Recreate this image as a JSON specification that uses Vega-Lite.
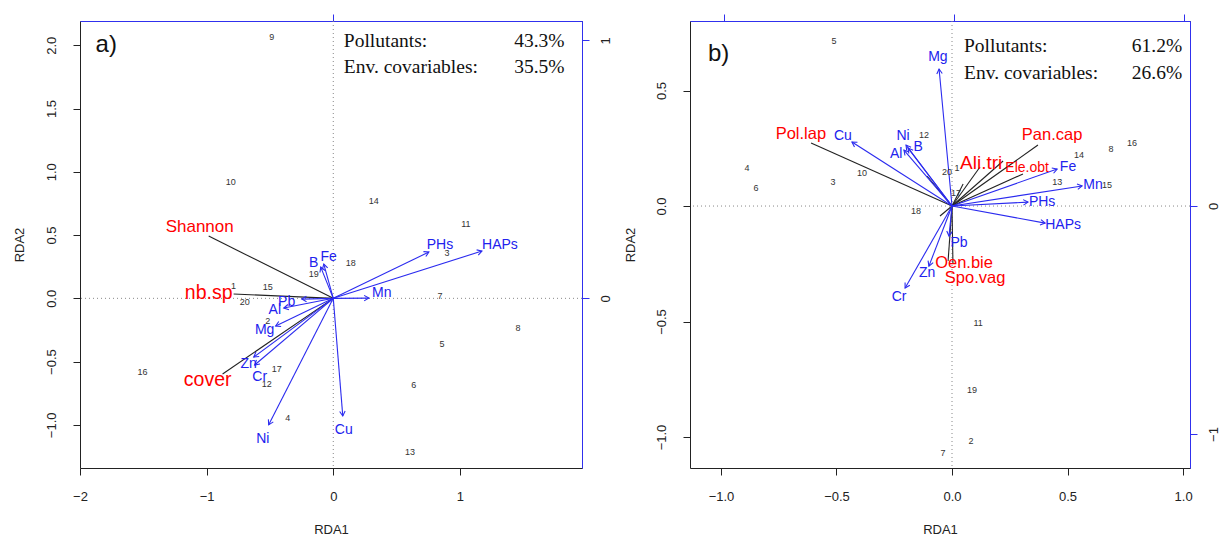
{
  "$schema": "https://vega.github.io/schema/vega-lite/v6.json",
  "padding": {"left": 12, "top": 13, "right": 0, "bottom": 0},
  "background": "white",
  "bounds": "flush",
  "spacing": 108,
  "config": {
    "view": {"stroke": "#222", "strokeWidth": 1},
    "axis": {"grid": false, "labelFont": "Liberation Sans", "titleFont": "Liberation Sans", "labelFontSize": 13, "titleFontSize": 13, "titleFontWeight": "normal", "labelColor": "#222", "titleColor": "#222", "tickColor": "#222", "labelOverlap": false, "labelFlush": false},
    "text": {"font": "Liberation Sans"}
  },
  "datasets": {
    "sitesA": [
      {"n": "1", "x": -0.787, "y": 0.097}, {"n": "2", "x": -0.518, "y": -0.179}, {"n": "3", "x": 0.897, "y": 0.358},
      {"n": "4", "x": -0.36, "y": -0.946}, {"n": "5", "x": 0.858, "y": -0.361}, {"n": "6", "x": 0.636, "y": -0.685},
      {"n": "7", "x": 0.842, "y": 0.018}, {"n": "8", "x": 1.458, "y": -0.235}, {"n": "9", "x": -0.486, "y": 2.066},
      {"n": "10", "x": -0.81, "y": 0.919}, {"n": "11", "x": 1.047, "y": 0.587}, {"n": "12", "x": -0.526, "y": -0.677},
      {"n": "13", "x": 0.605, "y": -1.215}, {"n": "14", "x": 0.32, "y": 0.769}, {"n": "15", "x": -0.518, "y": 0.089},
      {"n": "16", "x": -1.506, "y": -0.583}, {"n": "17", "x": -0.447, "y": -0.559}, {"n": "18", "x": 0.138, "y": 0.279},
      {"n": "19", "x": -0.154, "y": 0.192}, {"n": "20", "x": -0.7, "y": -0.029}
    ],
    "envA": [
      {"n": "Fe", "x": -0.075, "y": 0.271, "lx": -0.036, "ly": 0.326},
      {"n": "B", "x": -0.099, "y": 0.247, "lx": -0.154, "ly": 0.279},
      {"n": "Mn", "x": 0.281, "y": 0.002, "lx": 0.383, "ly": 0.042},
      {"n": "Pb", "x": -0.249, "y": -0.006, "lx": -0.368, "ly": -0.029},
      {"n": "Al", "x": -0.391, "y": -0.077, "lx": -0.462, "ly": -0.092},
      {"n": "Mg", "x": -0.455, "y": -0.219, "lx": -0.542, "ly": -0.251},
      {"n": "Zn", "x": -0.628, "y": -0.464, "lx": -0.668, "ly": -0.519},
      {"n": "Cr", "x": -0.621, "y": -0.527, "lx": -0.581, "ly": -0.622},
      {"n": "Ni", "x": -0.51, "y": -1.0, "lx": -0.557, "ly": -1.112},
      {"n": "Cu", "x": 0.075, "y": -0.93, "lx": 0.083, "ly": -1.041},
      {"n": "PHs", "x": 0.755, "y": 0.366, "lx": 0.842, "ly": 0.421},
      {"n": "HAPs", "x": 1.174, "y": 0.374, "lx": 1.316, "ly": 0.421}
    ],
    "spA": [
      {"n": "Shannon", "x": -0.984, "y": 0.492, "lx": -1.055, "ly": 0.564},
      {"n": "nb.sp", "x": -0.787, "y": 0.034, "lx": -0.984, "ly": 0.042},
      {"n": "cover", "x": -0.874, "y": -0.598, "lx": -0.992, "ly": -0.646}
    ],
    "sitesB": [
      {"n": "1", "x": 0.022, "y": 0.165}, {"n": "2", "x": 0.082, "y": -1.017}, {"n": "3", "x": -0.515, "y": 0.104},
      {"n": "4", "x": -0.887, "y": 0.165}, {"n": "5", "x": -0.511, "y": 0.714}, {"n": "6", "x": -0.848, "y": 0.078},
      {"n": "7", "x": -0.039, "y": -1.069}, {"n": "8", "x": 0.688, "y": 0.247}, {"n": "10", "x": -0.39, "y": 0.143},
      {"n": "11", "x": 0.113, "y": -0.506}, {"n": "12", "x": -0.121, "y": 0.307}, {"n": "13", "x": 0.455, "y": 0.104},
      {"n": "14", "x": 0.55, "y": 0.221}, {"n": "15", "x": 0.671, "y": 0.091}, {"n": "16", "x": 0.779, "y": 0.273},
      {"n": "17", "x": 0.017, "y": 0.056}, {"n": "18", "x": -0.156, "y": -0.022}, {"n": "19", "x": 0.087, "y": -0.797},
      {"n": "20", "x": -0.022, "y": 0.147}
    ],
    "envB": [
      {"n": "Mg", "x": -0.056, "y": 0.593, "lx": -0.061, "ly": 0.645},
      {"n": "Cu", "x": -0.433, "y": 0.277, "lx": -0.472, "ly": 0.303},
      {"n": "Ni", "x": -0.199, "y": 0.264, "lx": -0.212, "ly": 0.303},
      {"n": "B", "x": -0.19, "y": 0.251, "lx": -0.147, "ly": 0.255},
      {"n": "Al", "x": -0.208, "y": 0.242, "lx": -0.242, "ly": 0.225},
      {"n": "Fe", "x": 0.455, "y": 0.16, "lx": 0.502, "ly": 0.169},
      {"n": "Mn", "x": 0.563, "y": 0.087, "lx": 0.61, "ly": 0.091},
      {"n": "PHs", "x": 0.329, "y": 0.017, "lx": 0.39, "ly": 0.017},
      {"n": "HAPs", "x": 0.403, "y": -0.074, "lx": 0.481, "ly": -0.082},
      {"n": "Pb", "x": -0.013, "y": -0.13, "lx": 0.03, "ly": -0.16},
      {"n": "Zn", "x": -0.1, "y": -0.26, "lx": -0.108, "ly": -0.29},
      {"n": "Cr", "x": -0.203, "y": -0.355, "lx": -0.229, "ly": -0.394}
    ],
    "spB": [
      {"n": "Pol.lap", "x": -0.61, "y": 0.273, "lx": -0.654, "ly": 0.312},
      {"n": "Pan.cap", "x": 0.372, "y": 0.264, "lx": 0.433, "ly": 0.307},
      {"n": "Ali.tri", "x": 0.121, "y": 0.169, "lx": 0.126, "ly": 0.186},
      {"n": "Ele.obt", "x": 0.307, "y": 0.139, "lx": 0.325, "ly": 0.165},
      {"n": "Oen.bie", "x": -0.017, "y": -0.238, "lx": 0.052, "ly": -0.247},
      {"n": "Spo.vag", "x": 0.004, "y": -0.247, "lx": 0.1, "ly": -0.312},
      {"n": "", "x": -0.108, "y": 0.13, "lx": -0.108, "ly": 0.13},
      {"n": "", "x": -0.052, "y": -0.043, "lx": -0.052, "ly": -0.043},
      {"n": "", "x": 0.048, "y": 0.095, "lx": 0.048, "ly": 0.095},
      {"n": "", "x": 0.221, "y": 0.195, "lx": 0.221, "ly": 0.195}
    ]
  },
  "hconcat": [
    {
      "width": 502,
      "height": 447,
      "resolve": {"scale": {"x": "independent", "y": "independent"}},
      "layer": [
        {
          "layer": [
            {
              "data": {"values": [{"v": 0}]},
              "mark": {"type": "rule", "color": "#888", "strokeDash": [1, 3], "strokeWidth": 1},
              "encoding": {
                "x": {"field": "v", "type": "quantitative", "scale": {"domain": [-2.0, 1.964], "nice": false, "zero": false},
                  "axis": {"orient": "bottom", "values": [-2, -1, 0, 1], "format": "d", "domain": false, "tickSize": 7, "labelPadding": 21, "labelBaseline": "middle", "title": "RDA1", "titleY": 61, "titleBaseline": "middle"}}
              }
            },
            {
              "data": {"values": [{"v": 0}]},
              "mark": {"type": "rule", "color": "#888", "strokeDash": [1, 3], "strokeWidth": 1},
              "encoding": {
                "y": {"field": "v", "type": "quantitative", "scale": {"domain": [-1.341, 2.192], "nice": false, "zero": false},
                  "axis": {"orient": "left", "values": [-1, -0.5, 0, 0.5, 1, 1.5, 2], "format": ".1f", "domain": false, "tickSize": 7, "labelAngle": -90, "labelAlign": "center", "labelBaseline": "middle", "labelPadding": 22, "title": "RDA2", "titleX": -61, "titleAngle": -90, "titleBaseline": "middle", "titleAlign": "center"}}
              }
            },
            {
              "data": {"name": "spA"},
              "mark": {"type": "rule", "color": "#222", "strokeWidth": 1.1},
              "encoding": {
                "x": {"field": "x", "type": "quantitative", "scale": {"domain": [-2.0, 1.964], "nice": false, "zero": false}},
                "y": {"field": "y", "type": "quantitative", "scale": {"domain": [-1.341, 2.192], "nice": false, "zero": false}},
                "x2": {"datum": 0},
                "y2": {"datum": 0}
              }
            },
            {
              "data": {"name": "spA"},
              "transform": [{"filter": "datum.n == 'Shannon'"}],
              "mark": {"type": "text", "color": "#ff0000", "fontSize": 17, "align": "center", "baseline": "middle"},
              "encoding": {
                "x": {"field": "lx", "type": "quantitative", "scale": {"domain": [-2.0, 1.964], "nice": false, "zero": false}},
                "y": {"field": "ly", "type": "quantitative", "scale": {"domain": [-1.341, 2.192], "nice": false, "zero": false}},
                "text": {"field": "n"}
              }
            },
            {
              "data": {"name": "spA"},
              "transform": [{"filter": "datum.n != 'Shannon'"}],
              "mark": {"type": "text", "color": "#ff0000", "fontSize": 19.5, "align": "center", "baseline": "middle"},
              "encoding": {
                "x": {"field": "lx", "type": "quantitative", "scale": {"domain": [-2.0, 1.964], "nice": false, "zero": false}},
                "y": {"field": "ly", "type": "quantitative", "scale": {"domain": [-1.341, 2.192], "nice": false, "zero": false}},
                "text": {"field": "n"}
              }
            },
            {
              "data": {"name": "envA"},
              "mark": {"type": "rule", "color": "#2b2bef", "strokeWidth": 1.1},
              "encoding": {
                "x": {"field": "x", "type": "quantitative", "scale": {"domain": [-2.0, 1.964], "nice": false, "zero": false}},
                "y": {"field": "y", "type": "quantitative", "scale": {"domain": [-1.341, 2.192], "nice": false, "zero": false}},
                "x2": {"datum": 0},
                "y2": {"datum": 0}
              }
            },
            {
              "data": {"name": "envA"},
              "transform": [{"calculate": "atan2(datum.x, datum.y) * 180 / PI", "as": "ang"}],
              "mark": {"type": "point", "shape": "M -0.5 0.866 L 0 0 L 0.5 0.866", "filled": false, "color": "#2b2bef", "strokeWidth": 1.1, "size": 120, "opacity": 1},
              "encoding": {
                "x": {"field": "x", "type": "quantitative", "scale": {"domain": [-2.0, 1.964], "nice": false, "zero": false}},
                "y": {"field": "y", "type": "quantitative", "scale": {"domain": [-1.341, 2.192], "nice": false, "zero": false}},
                "angle": {"field": "ang", "type": "quantitative", "scale": null}
              }
            },
            {
              "data": {"name": "envA"},
              "mark": {"type": "text", "color": "#2222ee", "fontSize": 14, "align": "center", "baseline": "middle"},
              "encoding": {
                "x": {"field": "lx", "type": "quantitative", "scale": {"domain": [-2.0, 1.964], "nice": false, "zero": false}},
                "y": {"field": "ly", "type": "quantitative", "scale": {"domain": [-1.341, 2.192], "nice": false, "zero": false}},
                "text": {"field": "n"}
              }
            },
            {
              "data": {"name": "sitesA"},
              "mark": {"type": "text", "color": "#333", "fontSize": 9, "align": "center", "baseline": "middle"},
              "encoding": {
                "x": {"field": "x", "type": "quantitative", "scale": {"domain": [-2.0, 1.964], "nice": false, "zero": false}},
                "y": {"field": "y", "type": "quantitative", "scale": {"domain": [-1.341, 2.192], "nice": false, "zero": false}},
                "text": {"field": "n"}
              }
            },
            {
              "data": {"values": [{"t": "a)", "x": -1.877, "y": 2.003}]},
              "mark": {"type": "text", "color": "#111", "fontSize": 24, "align": "left", "baseline": "middle"},
              "encoding": {
                "x": {"field": "x", "type": "quantitative", "scale": {"domain": [-2.0, 1.964], "nice": false, "zero": false}},
                "y": {"field": "y", "type": "quantitative", "scale": {"domain": [-1.341, 2.192], "nice": false, "zero": false}},
                "text": {"field": "t"}
              }
            },
            {
              "data": {"values": [{"t": "Pollutants:", "x": 0.083, "y": 2.033}, {"t": "Env. covariables:", "x": 0.083, "y": 1.828}]},
              "mark": {"type": "text", "color": "#111", "font": "Liberation Serif", "fontSize": 19.5, "align": "left", "baseline": "middle"},
              "encoding": {
                "x": {"field": "x", "type": "quantitative", "scale": {"domain": [-2.0, 1.964], "nice": false, "zero": false}},
                "y": {"field": "y", "type": "quantitative", "scale": {"domain": [-1.341, 2.192], "nice": false, "zero": false}},
                "text": {"field": "t"}
              }
            },
            {
              "data": {"values": [{"t": "43.3%", "x": 1.826, "y": 2.033}, {"t": "35.5%", "x": 1.826, "y": 1.828}]},
              "mark": {"type": "text", "color": "#111", "font": "Liberation Serif", "fontSize": 19.5, "align": "right", "baseline": "middle"},
              "encoding": {
                "x": {"field": "x", "type": "quantitative", "scale": {"domain": [-2.0, 1.964], "nice": false, "zero": false}},
                "y": {"field": "y", "type": "quantitative", "scale": {"domain": [-1.341, 2.192], "nice": false, "zero": false}},
                "text": {"field": "t"}
              }
            }
          ]
        },
        {
          "data": {"values": [{"bx": 0, "by": 0}]},
          "mark": {"type": "point", "opacity": 0},
          "encoding": {
            "x": {"field": "bx", "type": "quantitative", "scale": {"domain": [-0.981, 0.963], "nice": false, "zero": false},
              "axis": {"orient": "top", "values": [-1, 0, 1], "labels": false, "domain": true, "domainColor": "#3030ee", "tickColor": "#3030ee", "tickSize": 7, "title": null}},
            "y": {"field": "by", "type": "quantitative", "scale": {"domain": [-0.658, 1.075], "nice": false, "zero": false},
              "axis": {"orient": "right", "values": [-1, 0, 1], "format": "d", "domain": true, "domainColor": "#3030ee", "tickColor": "#3030ee", "tickSize": 7, "labelAngle": -90, "labelAlign": "center", "labelBaseline": "middle", "labelPadding": 16, "title": null}}
          }
        }
      ]
    },
    {
      "width": 500,
      "height": 447,
      "resolve": {"scale": {"x": "independent", "y": "independent"}},
      "layer": [
        {
          "layer": [
            {
              "data": {"values": [{"v": 0}]},
              "mark": {"type": "rule", "color": "#888", "strokeDash": [1, 3], "strokeWidth": 1},
              "encoding": {
                "x": {"field": "v", "type": "quantitative", "scale": {"domain": [-1.134, 1.03], "nice": false, "zero": false},
                  "axis": {"orient": "bottom", "values": [-1, -0.5, 0, 0.5, 1], "format": ".1f", "domain": false, "tickSize": 7, "labelPadding": 21, "labelBaseline": "middle", "title": "RDA1", "titleY": 61, "titleBaseline": "middle"}}
              }
            },
            {
              "data": {"values": [{"v": 0}]},
              "mark": {"type": "rule", "color": "#888", "strokeDash": [1, 3], "strokeWidth": 1},
              "encoding": {
                "y": {"field": "v", "type": "quantitative", "scale": {"domain": [-1.134, 0.801], "nice": false, "zero": false},
                  "axis": {"orient": "left", "values": [-1, -0.5, 0, 0.5], "format": ".1f", "domain": false, "tickSize": 7, "labelAngle": -90, "labelAlign": "center", "labelBaseline": "middle", "labelPadding": 22, "title": "RDA2", "titleX": -60, "titleAngle": -90, "titleBaseline": "middle", "titleAlign": "center"}}
              }
            },
            {
              "data": {"name": "spB"},
              "mark": {"type": "rule", "color": "#222", "strokeWidth": 1.1},
              "encoding": {
                "x": {"field": "x", "type": "quantitative", "scale": {"domain": [-1.134, 1.03], "nice": false, "zero": false}},
                "y": {"field": "y", "type": "quantitative", "scale": {"domain": [-1.134, 0.801], "nice": false, "zero": false}},
                "x2": {"datum": 0},
                "y2": {"datum": 0}
              }
            },
            {
              "data": {"name": "envB"},
              "mark": {"type": "rule", "color": "#2b2bef", "strokeWidth": 1.1},
              "encoding": {
                "x": {"field": "x", "type": "quantitative", "scale": {"domain": [-1.134, 1.03], "nice": false, "zero": false}},
                "y": {"field": "y", "type": "quantitative", "scale": {"domain": [-1.134, 0.801], "nice": false, "zero": false}},
                "x2": {"datum": 0},
                "y2": {"datum": 0}
              }
            },
            {
              "data": {"name": "envB"},
              "transform": [{"calculate": "atan2(datum.x, datum.y) * 180 / PI", "as": "ang"}],
              "mark": {"type": "point", "shape": "M -0.5 0.866 L 0 0 L 0.5 0.866", "filled": false, "color": "#2b2bef", "strokeWidth": 1.1, "size": 120, "opacity": 1},
              "encoding": {
                "x": {"field": "x", "type": "quantitative", "scale": {"domain": [-1.134, 1.03], "nice": false, "zero": false}},
                "y": {"field": "y", "type": "quantitative", "scale": {"domain": [-1.134, 0.801], "nice": false, "zero": false}},
                "angle": {"field": "ang", "type": "quantitative", "scale": null}
              }
            },
            {
              "data": {"name": "envB"},
              "mark": {"type": "text", "color": "#2222ee", "fontSize": 14, "align": "center", "baseline": "middle"},
              "encoding": {
                "x": {"field": "lx", "type": "quantitative", "scale": {"domain": [-1.134, 1.03], "nice": false, "zero": false}},
                "y": {"field": "ly", "type": "quantitative", "scale": {"domain": [-1.134, 0.801], "nice": false, "zero": false}},
                "text": {"field": "n"}
              }
            },
            {
              "data": {"name": "spB"},
              "transform": [{"filter": "datum.n == 'Ali.tri'"}],
              "mark": {"type": "text", "color": "#ff0000", "fontSize": 19, "align": "center", "baseline": "middle"},
              "encoding": {
                "x": {"field": "lx", "type": "quantitative", "scale": {"domain": [-1.134, 1.03], "nice": false, "zero": false}},
                "y": {"field": "ly", "type": "quantitative", "scale": {"domain": [-1.134, 0.801], "nice": false, "zero": false}},
                "text": {"field": "n"}
              }
            },
            {
              "data": {"name": "spB"},
              "transform": [{"filter": "datum.n == 'Ele.obt'"}],
              "mark": {"type": "text", "color": "#ff0000", "fontSize": 14, "align": "center", "baseline": "middle"},
              "encoding": {
                "x": {"field": "lx", "type": "quantitative", "scale": {"domain": [-1.134, 1.03], "nice": false, "zero": false}},
                "y": {"field": "ly", "type": "quantitative", "scale": {"domain": [-1.134, 0.801], "nice": false, "zero": false}},
                "text": {"field": "n"}
              }
            },
            {
              "data": {"name": "spB"},
              "transform": [{"filter": "datum.n != 'Ali.tri' && datum.n != 'Ele.obt' && datum.n != ''"}],
              "mark": {"type": "text", "color": "#ff0000", "fontSize": 16.5, "align": "center", "baseline": "middle"},
              "encoding": {
                "x": {"field": "lx", "type": "quantitative", "scale": {"domain": [-1.134, 1.03], "nice": false, "zero": false}},
                "y": {"field": "ly", "type": "quantitative", "scale": {"domain": [-1.134, 0.801], "nice": false, "zero": false}},
                "text": {"field": "n"}
              }
            },
            {
              "data": {"name": "sitesB"},
              "mark": {"type": "text", "color": "#333", "fontSize": 9, "align": "center", "baseline": "middle"},
              "encoding": {
                "x": {"field": "x", "type": "quantitative", "scale": {"domain": [-1.134, 1.03], "nice": false, "zero": false}},
                "y": {"field": "y", "type": "quantitative", "scale": {"domain": [-1.134, 0.801], "nice": false, "zero": false}},
                "text": {"field": "n"}
              }
            },
            {
              "data": {"values": [{"t": "b)", "x": -1.056, "y": 0.658}]},
              "mark": {"type": "text", "color": "#111", "fontSize": 24, "align": "left", "baseline": "middle"},
              "encoding": {
                "x": {"field": "x", "type": "quantitative", "scale": {"domain": [-1.134, 1.03], "nice": false, "zero": false}},
                "y": {"field": "y", "type": "quantitative", "scale": {"domain": [-1.134, 0.801], "nice": false, "zero": false}},
                "text": {"field": "t"}
              }
            },
            {
              "data": {"values": [{"t": "Pollutants:", "x": 0.052, "y": 0.693}, {"t": "Env. covariables:", "x": 0.052, "y": 0.576}]},
              "mark": {"type": "text", "color": "#111", "font": "Liberation Serif", "fontSize": 19.5, "align": "left", "baseline": "middle"},
              "encoding": {
                "x": {"field": "x", "type": "quantitative", "scale": {"domain": [-1.134, 1.03], "nice": false, "zero": false}},
                "y": {"field": "y", "type": "quantitative", "scale": {"domain": [-1.134, 0.801], "nice": false, "zero": false}},
                "text": {"field": "t"}
              }
            },
            {
              "data": {"values": [{"t": "61.2%", "x": 0.996, "y": 0.693}, {"t": "26.6%", "x": 0.996, "y": 0.576}]},
              "mark": {"type": "text", "color": "#111", "font": "Liberation Serif", "fontSize": 19.5, "align": "right", "baseline": "middle"},
              "encoding": {
                "x": {"field": "x", "type": "quantitative", "scale": {"domain": [-1.134, 1.03], "nice": false, "zero": false}},
                "y": {"field": "y", "type": "quantitative", "scale": {"domain": [-1.134, 0.801], "nice": false, "zero": false}},
                "text": {"field": "t"}
              }
            }
          ]
        },
        {
          "data": {"values": [{"bx": 0, "by": 0}]},
          "mark": {"type": "point", "opacity": 0},
          "encoding": {
            "x": {"field": "bx", "type": "quantitative", "scale": {"domain": [-1.148, 1.026], "nice": false, "zero": false},
              "axis": {"orient": "top", "values": [-1, 0, 1], "labels": false, "domain": true, "domainColor": "#3030ee", "tickColor": "#3030ee", "tickSize": 7, "title": null}},
            "y": {"field": "by", "type": "quantitative", "scale": {"domain": [-1.149, 0.811], "nice": false, "zero": false},
              "axis": {"orient": "right", "values": [-1, 0, 1], "format": "d", "domain": true, "domainColor": "#3030ee", "tickColor": "#3030ee", "tickSize": 7, "labelAngle": -90, "labelAlign": "center", "labelBaseline": "middle", "labelPadding": 16, "title": null}}
          }
        }
      ]
    }
  ]
}
